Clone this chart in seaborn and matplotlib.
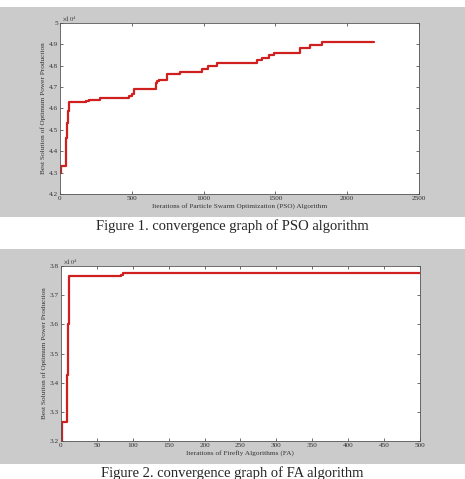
"""Convergence graphs of PSO and FA (two stacked MATLAB-style panels)."""

import matplotlib
matplotlib.use("Agg")
import matplotlib.pyplot as plt
import matplotlib.ticker as mticker
from matplotlib.patches import Rectangle
import pandas as pd
import seaborn as sns

# ---------------------------------------------------------------------------
# Data (step change points)
# ---------------------------------------------------------------------------
pso_iter = [0, 8, 35, 40, 45, 50, 55, 60, 180, 200, 280, 480, 500, 515, 535,
            668, 676, 690, 745, 832, 838, 986, 1032, 1090, 1118, 1370, 1410,
            1455, 1492, 1672, 1738, 1826, 2190]
pso_best = [4.300, 4.330, 4.330, 4.390, 4.460, 4.530, 4.590, 4.630, 4.635,
            4.640, 4.650, 4.660, 4.670, 4.690, 4.690, 4.720, 4.730, 4.735,
            4.760, 4.760, 4.770, 4.785, 4.800, 4.815, 4.815, 4.825, 4.835,
            4.850, 4.860, 4.885, 4.895, 4.910, 4.910]

fa_iter = [0, 1, 9, 10, 11, 83, 86, 500]
fa_best = [3.200, 3.265, 3.425, 3.600, 3.765, 3.770, 3.775, 3.775]

SCALE = 1e4  # values are in units of 10^4

pso_xticks = [0, 500, 1000, 1500, 2000, 2500]
pso_yticks = [4.2, 4.3, 4.4, 4.5, 4.6, 4.7, 4.8, 4.9, 5.0]
fa_xticks = [0, 50, 100, 150, 200, 250, 300, 350, 400, 450, 500]
fa_yticks = [3.2, 3.3, 3.4, 3.5, 3.6, 3.7, 3.8]

pso_xlabel = "Iterations of Particle Swarm Optimization (PSO) Algorithm"
fa_xlabel = "Iterations of Firefly Algorithms (FA)"
ylabel = "Best Solution of Optimum Power Production"
captions = ["Figure 1. convergence graph of PSO algorithm",
            "Figure 2. convergence graph of FA algorithm"]

LINE_RED = "#d01f1f"
PANEL_GRAY = "#cbcbcb"

# ---------------------------------------------------------------------------
# Style
# ---------------------------------------------------------------------------
sns.set_style("ticks")
plt.rcParams["font.family"] = ["Liberation Serif", "DejaVu Serif"]
plt.rcParams["mathtext.fontset"] = "stix"

fig = plt.figure(figsize=(4.65, 4.79), dpi=100)
fig.patch.set_facecolor("white")

# gray panel backgrounds behind each graph
fig.patches.append(Rectangle((0.0, 0.547), 1.0, 0.438, transform=fig.transFigure,
                             facecolor=PANEL_GRAY, edgecolor="none", zorder=-10))
fig.patches.append(Rectangle((0.0, 0.031), 1.0, 0.449, transform=fig.transFigure,
                             facecolor=PANEL_GRAY, edgecolor="none", zorder=-10))

ax1 = fig.add_axes([0.129, 0.595, 0.772, 0.357])
ax2 = fig.add_axes([0.131, 0.079, 0.772, 0.366])


def draw_panel(ax, iters, best, xticks, yticks, xlabel):
    df = pd.DataFrame({"iter": iters, "best": [b * SCALE for b in best]})
    sns.lineplot(data=df, x="iter", y="best", ax=ax, color=LINE_RED,
                 linewidth=1.6, drawstyle="steps-post", estimator=None,
                 sort=False)
    ax.set_facecolor("white")
    ax.set_xlim(xticks[0], xticks[-1])
    ax.set_ylim(yticks[0] * SCALE, yticks[-1] * SCALE)
    ax.set_xticks(xticks)
    ax.set_yticks([t * SCALE for t in yticks])
    ax.yaxis.set_major_formatter(
        mticker.FuncFormatter(lambda v, _: f"{v / SCALE:g}"))
    ax.tick_params(direction="in", length=2.5, width=0.5, labelsize=5.2,
                   top=True, right=True, pad=1.5, colors="#333333")
    for sp in ax.spines.values():
        sp.set_linewidth(0.6)
        sp.set_color("#555555")
    ax.set_xlabel(xlabel, fontsize=5.2, labelpad=1.5, color="#333333")
    ax.set_ylabel(ylabel, fontsize=5.2, labelpad=2, color="#333333")
    ax.text(0.005, 1.0, r"$\times10^{4}$", transform=ax.transAxes,
            ha="left", va="bottom", fontsize=4.5, color="#333333")


draw_panel(ax1, pso_iter, pso_best, pso_xticks, pso_yticks, pso_xlabel)
draw_panel(ax2, fa_iter, fa_best, fa_xticks, fa_yticks, fa_xlabel)

fig.text(0.5, 0.528, captions[0], ha="center", va="center", fontsize=10.5)
fig.text(0.5, 0.012, captions[1], ha="center", va="center", fontsize=10.5)

fig.savefig("out.png", dpi=100)
plt.close(fig)
